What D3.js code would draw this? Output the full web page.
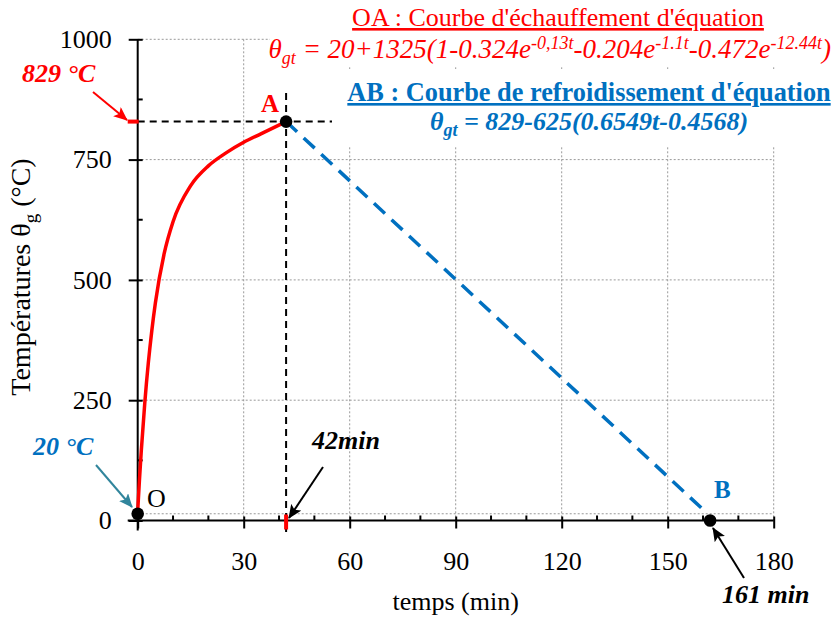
<!DOCTYPE html>
<html>
<head>
<meta charset="utf-8">
<script src="https://d3js.org/d3.v7.min.js"></script>
<style>
body { margin: 0; background: #fff; }
text { font-family: "Liberation Serif", "Times New Roman", serif; }
</style>
</head>
<body>
<div id="chart"></div>
<script>
// heating curve OA (t in min, temperature in °C)
var heatT = [0, 0.5, 1, 2, 3, 4, 5, 7.5, 10, 15, 20, 25, 30, 35, 42];
var heatV = [20, 85, 143, 244, 327, 395, 452, 555, 621, 696, 737, 764, 786, 804, 829];
// cooling line AB
var coolT = [42, 161];
var coolV = [829, 16];
// marked points
var pointNames = ["O", "A", "B"];
var pointT = [0, 42, 162];
var pointV = [14, 829, 0];
var xTicks = [0, 30, 60, 90, 120, 150, 180];
var yTicks = [0, 250, 500, 750, 1000];
var xMinor = [10, 20, 40, 50, 70, 80, 100, 110, 130, 140, 160, 170];
var yMinor = [125, 375, 625, 875];

var W = 834, H = 620;
var red = "#ff0000", blue = "#0070c0", teal = "#31859c";

var svg = d3.select("#chart").append("svg")
    .attr("width", W).attr("height", H);

var x = d3.scaleLinear().domain([0, 180]).range([137.7, 773.7]);
var y = d3.scaleLinear().domain([0, 1000]).range([520.5, 39.3]);

var defs = svg.append("defs");
[["arRed", red], ["arTeal", teal], ["arBlack", "#000"]].forEach(function(m) {
  defs.append("marker")
      .attr("id", m[0])
      .attr("markerUnits", "userSpaceOnUse")
      .attr("markerWidth", 14).attr("markerHeight", 12)
      .attr("refX", 13).attr("refY", 6)
      .attr("orient", "auto")
    .append("path")
      .attr("d", "M0,0 L14,6 L0,12 L3,6 z")
      .attr("fill", m[1]);
});

// grid
var grid = svg.append("g");
grid.selectAll(".vg").data(xTicks.slice(1)).enter().append("line")
    .attr("x1", d => x(d)).attr("x2", d => x(d))
    .attr("y1", y(1000)).attr("y2", y(0))
    .attr("stroke", "#999").attr("stroke-width", 1).attr("stroke-dasharray", "2,2");
grid.selectAll(".hg").data(yTicks.slice(1).concat([pointV[0]])).enter().append("line")
    .attr("x1", x(0)).attr("x2", x(180))
    .attr("y1", d => y(d)).attr("y2", d => y(d))
    .attr("stroke", "#999").attr("stroke-width", 1).attr("stroke-dasharray", "2,2");

// axes
var xAxis = svg.append("g")
    .attr("transform", "translate(0," + y(0) + ")")
    .call(d3.axisBottom(x).tickValues(xTicks).tickFormat(d3.format("d"))
      .tickSizeInner(8).tickSizeOuter(0).tickPadding(23));
xAxis.selectAll(".tick line").attr("y1", -4);
xAxis.selectAll(".domain").attr("d", "M" + (x(0) - 10) + ",0H" + x(180));

var yAxis = svg.append("g")
    .attr("transform", "translate(" + x(0) + ",0)")
    .call(d3.axisLeft(y).tickValues(yTicks).tickFormat(d3.format("d"))
      .tickSizeInner(9).tickSizeOuter(0).tickPadding(17));
yAxis.selectAll(".tick line").attr("x1", 5);
yAxis.selectAll(".domain").attr("d", "M0," + y(1000) + "V" + (y(0) + 10));

[xAxis, yAxis].forEach(function(a) {
  a.attr("font-family", null).attr("font-size", null);
  a.selectAll("path, line").attr("stroke", "#000").attr("stroke-width", 2);
  a.selectAll("text").style("font-size", "26px").attr("fill", "#000")
    .style("font-family", "'Liberation Serif', serif");
});

svg.append("g").selectAll("line").data(xMinor).enter().append("line")
    .attr("x1", d => x(d)).attr("x2", d => x(d))
    .attr("y1", y(0)).attr("y2", y(0) - 5)
    .attr("stroke", "#000").attr("stroke-width", 2);
svg.append("g").selectAll("line").data(yMinor).enter().append("line")
    .attr("x1", x(0)).attr("x2", x(0) + 5)
    .attr("y1", d => y(d)).attr("y2", d => y(d))
    .attr("stroke", "#000").attr("stroke-width", 2);

// axis titles
svg.append("text")
    .attr("x", x(90)).attr("y", 610)
    .attr("text-anchor", "middle").attr("font-size", 26)
    .text("temps (min)");
var yt = svg.append("text")
    .attr("transform", "translate(30,277) rotate(-90)")
    .attr("text-anchor", "middle").attr("font-size", 28);
yt.append("tspan").text("Températures θ");
yt.append("tspan").attr("font-size", 19).attr("dy", 7).text("g");
yt.append("tspan").attr("dy", -7).text(" (°C)");

// guide lines through A
svg.append("line")
    .attr("x1", x(0)).attr("x2", 332)
    .attr("y1", y(829)).attr("y2", y(829))
    .attr("stroke", "#000").attr("stroke-width", 2).attr("stroke-dasharray", "7,5");
svg.append("line")
    .attr("x1", x(42)).attr("x2", x(42))
    .attr("y1", 93).attr("y2", 535)
    .attr("stroke", "#000").attr("stroke-width", 2).attr("stroke-dasharray", "7,5");

// red markers on axes
svg.append("line")
    .attr("x1", x(0) - 10).attr("x2", x(0) + 1)
    .attr("y1", y(829)).attr("y2", y(829))
    .attr("stroke", red).attr("stroke-width", 4);
svg.append("line")
    .attr("x1", x(42)).attr("x2", x(42))
    .attr("y1", y(0) - 6).attr("y2", y(0) + 9)
    .attr("stroke", red).attr("stroke-width", 4);

// heating curve
var heat = heatT.map((t, i) => [t, heatV[i]]);
svg.append("path")
    .datum(heat)
    .attr("fill", "none").attr("stroke", red).attr("stroke-width", 3.5)
    .attr("d", d3.line().x(d => x(d[0])).y(d => y(d[1])).curve(d3.curveMonotoneX));

// cooling line
var cool = coolT.map((t, i) => [t, coolV[i]]);
svg.append("path")
    .datum(cool)
    .attr("fill", "none").attr("stroke", blue).attr("stroke-width", 3.5)
    .attr("stroke-dasharray", "15,9")
    .attr("d", d3.line().x(d => x(d[0])).y(d => y(d[1])));

// points
svg.append("g").selectAll("circle").data(pointT).enter().append("circle")
    .attr("cx", d => x(d)).attr("cy", (d, i) => y(pointV[i]))
    .attr("r", 6.3).attr("fill", "#000");

// point labels
svg.append("text").attr("x", 147).attr("y", 507).attr("font-size", 26).text(pointNames[0]);
svg.append("text").attr("x", 261).attr("y", 112).attr("font-size", 25)
    .attr("font-weight", "bold").attr("fill", red).text(pointNames[1]);
svg.append("text").attr("x", 714).attr("y", 498).attr("font-size", 25)
    .attr("font-weight", "bold").attr("fill", blue).text(pointNames[2]);

// annotations
function note(tx, ty, txt, col, x1, y1, x2, y2, mk) {
  svg.append("text").attr("x", tx).attr("y", ty)
      .attr("font-size", 26).attr("font-weight", "bold").attr("font-style", "italic")
      .attr("fill", col).text(txt);
  svg.append("line").attr("x1", x1).attr("y1", y1).attr("x2", x2).attr("y2", y2)
      .attr("stroke", mk == "arTeal" ? teal : col).attr("stroke-width", 2)
      .attr("marker-end", "url(#" + mk + ")");
}
note(22, 82, "829 °C", red, 93, 92, 127, 120, "arRed");
note(33, 455, "20 °C", blue, 96, 465, 132, 507, "arTeal");
note(312, 449, "42min", "#000", 323, 467, 289, 518, "arBlack");
note(722, 603, "161 min", "#000", 744, 578, 713, 528, "arBlack");

// equation boxes
svg.append("rect").attr("x", 270).attr("y", 0).attr("width", W - 270).attr("height", 66).attr("fill", "#fff");
svg.append("rect").attr("x", 340).attr("y", 69).attr("width", W - 340).attr("height", 77).attr("fill", "#fff");

svg.append("text").attr("x", 558).attr("y", 26)
    .attr("text-anchor", "middle").attr("font-size", 26).attr("fill", red)
    .style("text-decoration", "underline")
    .text("OA : Courbe d'échauffement d'équation");

var eq1 = svg.append("text").attr("x", 831).attr("y", 58)
    .attr("text-anchor", "end").attr("font-size", 27).attr("font-style", "italic").attr("fill", red);
eq1.append("tspan").text("θ");
eq1.append("tspan").attr("font-size", 18).attr("dy", 6).text("gt");
eq1.append("tspan").attr("dy", -6).text(" = 20+1325(1-0.324e");
eq1.append("tspan").attr("font-size", 18).attr("dy", -9).text("-0,13t");
eq1.append("tspan").attr("dy", 9).text("-0.204e");
eq1.append("tspan").attr("font-size", 18).attr("dy", -9).text("-1.1t");
eq1.append("tspan").attr("dy", 9).text("-0.472e");
eq1.append("tspan").attr("font-size", 18).attr("dy", -9).text("-12.44t");
eq1.append("tspan").attr("dy", 9).text(")");

svg.append("text").attr("x", 589).attr("y", 101)
    .attr("text-anchor", "middle").attr("font-size", 26.3).attr("font-weight", "bold").attr("fill", blue)
    .style("text-decoration", "underline")
    .text("AB : Courbe de refroidissement d'équation");

var eq2 = svg.append("text").attr("x", 589).attr("y", 130)
    .attr("text-anchor", "middle").attr("font-size", 26).attr("font-weight", "bold")
    .attr("font-style", "italic").attr("fill", blue);
eq2.append("tspan").text("θ");
eq2.append("tspan").attr("font-size", 18).attr("dy", 6).text("gt");
eq2.append("tspan").attr("dy", -6).text(" = 829-625(0.6549t-0.4568)");
</script>
</body>
</html>
